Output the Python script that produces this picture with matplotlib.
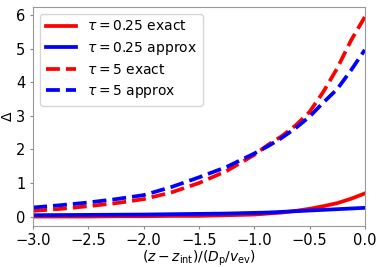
import matplotlib
matplotlib.use("Agg")
import matplotlib.pyplot as plt

z = [-3.0, -2.75, -2.5, -2.25, -2.0, -1.75, -1.5, -1.25, -1.0, -0.875, -0.75,
     -0.625, -0.5, -0.375, -0.25, -0.125, 0.0]
exact_025 = [0.0, 0.0, 0.0, 0.01, 0.01, 0.02, 0.02, 0.04, 0.06, 0.09, 0.12,
             0.17, 0.23, 0.31, 0.40, 0.53, 0.69]
approx_025 = [0.04, 0.045, 0.05, 0.055, 0.06, 0.07, 0.08, 0.09, 0.11, 0.12, 0.14,
              0.16, 0.18, 0.20, 0.22, 0.24, 0.26]
exact_5 = [0.17, 0.23, 0.31, 0.40, 0.52, 0.72, 1.00, 1.36, 1.84, 2.14, 2.40,
           2.72, 3.12, 3.72, 4.42, 5.25, 5.95]
approx_5 = [0.27, 0.34, 0.42, 0.52, 0.64, 0.88, 1.17, 1.48, 1.88, 2.10, 2.35,
            2.64, 2.98, 3.40, 3.80, 4.36, 4.97]
labels = [r"$\tau = 0.25$ exact", r"$\tau = 0.25$ approx",
          r"$\tau = 5$ exact", r"$\tau = 5$ approx"]
xticks = [-3.0, -2.5, -2.0, -1.5, -1.0, -0.5, 0.0]
yticks = [0, 1, 2, 3, 4, 5, 6]

fig = plt.figure(figsize=(3.82, 2.67), dpi=100)
ax = fig.add_axes([0.087, 0.155, 0.868, 0.819])
ax.plot(z, exact_025, color="red", lw=2.7, label=labels[0])
ax.plot(z, approx_025, color="blue", lw=2.7, label=labels[1])
ax.plot(z, exact_5, color="red", lw=2.7, ls="--", label=labels[2])
ax.plot(z, approx_5, color="blue", lw=2.7, ls="--", label=labels[3])
ax.set_xlim(-3, 0)
ax.set_ylim(-0.27, 6.25)
ax.set_xticks(xticks)
ax.set_yticks(yticks)
ax.tick_params(labelsize=10.5, color="#888888", length=2.4, pad=3.2)
for s in ax.spines.values():
    s.set_color("#999999")
ax.set_xlabel(r"$(z-z_{\rm int})/(D_{\rm p}/v_{\rm ev})$", fontsize=10, labelpad=0)
ax.set_ylabel(r"$\Delta$", fontsize=10, labelpad=0.5)
ax.legend(loc="upper left", fontsize=10, handlelength=2.2, borderpad=0.4,
          labelspacing=0.45, handletextpad=0.8, borderaxespad=0.5)
fig.savefig("out.png", dpi=100)
